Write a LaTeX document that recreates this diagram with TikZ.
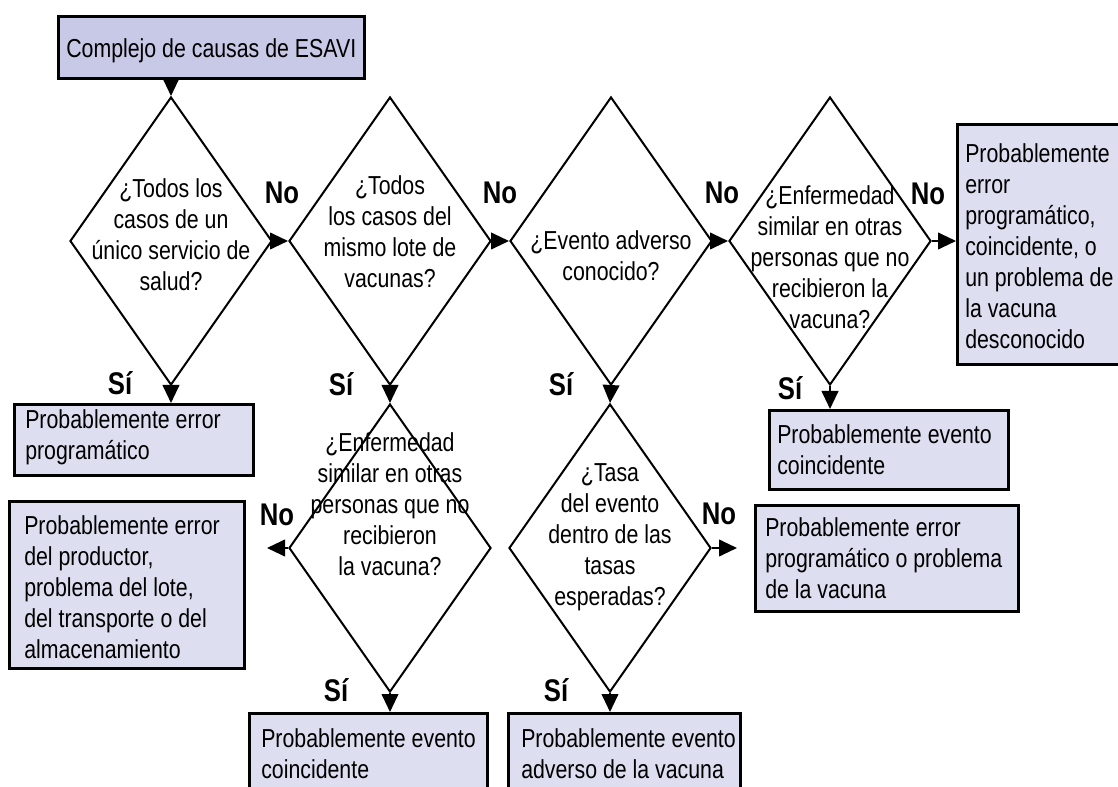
\documentclass[tikz,border=0pt]{standalone}
\usepackage{fontspec}
\setmainfont{Liberation Sans}[FakeStretch=0.82]
\usetikzlibrary{shapes.geometric,arrows.meta}
\definecolor{boxdark}{HTML}{C7C9E6}
\definecolor{boxlight}{HTML}{DDDFF0}
\newcommand{\txtfont}{\fontsize{19.5pt}{23.25pt}\selectfont}
\newcommand{\labfont}{\bfseries\fontsize{23.5pt}{24pt}\selectfont}
\tikzset{
  boxshape/.style={draw, line width=2pt, fill=boxlight, anchor=north west, inner sep=0pt},
  boxtext/.style={anchor=west, align=left, font=\txtfont, inner sep=0pt},
  dia/.style={draw, diamond, line width=1.5pt, minimum width=151.5pt,
    minimum height=216pt, inner sep=0pt},
  qtext/.style={align=center, font=\txtfont, inner sep=0pt},
  lab/.style={font=\labfont, inner sep=0pt},
  arr/.style={line width=1.5pt, -{Triangle[length=13.5pt,width=12.5pt]}}
}
\begin{document}
\begin{tikzpicture}[x=0.75pt,y=-0.75pt]
\path[use as bounding box] (0,0) rectangle (1118,787);
\clip (0,0) rectangle (1118,787);

% boxes
\node[boxshape, fill=boxdark, minimum width=229.5pt, minimum height=46.5pt] (top) at (57,15) {};
\node[boxtext] (topt) at ([shift={(9,3)}]top.west) {Complejo de causas de ESAVI};

\node[boxshape, minimum width=179.25pt, minimum height=53.25pt] (b1) at (13,403) {};
\node[boxtext] (b1t) at ([shift={(12,-3)}]b1.west) {Probablemente error\\programático};

\node[boxshape, minimum width=124.5pt, minimum height=180pt] (b2) at (956,123) {};
\node[boxtext] (b2t) at ([shift={(9,2)}]b2.west)
  {Probablemente\\error\\programático,\\coincidente, o\\un problema de\\la vacuna\\desconocido};

\node[boxshape, minimum width=179.25pt, minimum height=59.25pt] (b3) at (768,409) {};
\node[boxtext] (b3t) at ([shift={(9,0)}]b3.west) {Probablemente evento\\coincidente};

\node[boxshape, minimum width=176.25pt, minimum height=125.25pt] (b4) at (8,500) {};
\node[boxtext] (b4t) at ([shift={(16,2)}]b4.west)
  {Probablemente error\\del productor,\\problema del lote,\\del transporte o del\\almacenamiento};

\node[boxshape, minimum width=197.25pt, minimum height=79.5pt] (b5) at (754,504) {};
\node[boxtext] (b5t) at ([shift={(11,0)}]b5.west)
  {Probablemente error\\programático o problema\\de la vacuna};

\node[boxshape, minimum width=178.5pt, minimum height=60pt] (b6) at (248,712) {};
\node[boxtext] (b6t) at ([shift={(13,0)}]b6.west) {Probablemente evento\\coincidente};

\node[boxshape, minimum width=174pt, minimum height=60pt] (b7) at (507,712) {};
\node[boxtext] (b7t) at ([shift={(14,0)}]b7.west) {Probablemente evento\\adverso de la vacuna};

% diamonds
\node[dia] (d1) at (171,241) {};
\node[dia] (d2) at (390,241) {};
\node[dia] (d3) at (611,241) {};
\node[dia] (d4) at (830,241) {};
\node[dia] (d5) at (390,548) {};
\node[dia] (d6) at (610,548) {};

\node[qtext] (d1t) at (171,235) {¿Todos los\\casos de un\\único servicio de\\salud?};
\node[qtext] (d2t) at (390,232) {¿Todos\\los casos del\\mismo lote de\\vacunas?};
\node[qtext] (d3t) at (611,256) {¿Evento adverso\\conocido?};
\node[qtext] (d4t) at (830,257) {¿Enfermedad\\similar en otras\\personas que no\\recibieron la\\vacuna?};
\node[qtext] (d5t) at (390,504) {¿Enfermedad\\similar en otras\\personas que no\\recibieron\\la vacuna?};
\node[qtext] (d6t) at (610,537) {¿Tasa\\del evento\\dentro de las\\tasas\\esperadas?};

% free ends
\coordinate (e5) at (267,548);
\coordinate (e6) at (737,548);

% connectors
\draw[arr] (d1.north |- top.south) -- (d1.north);
\draw[arr] (d1.south) -- (d1.south |- b1.north);
\draw[arr] (d1.east) -- (d2.west);
\draw[arr] (d2.east) -- (d3.west);
\draw[arr] (d3.east) -- (d4.west);
\draw[arr] (d4.east) -- (d4.east -| b2.west);
\draw[arr] (d2.south) -- (d5.north);
\draw[arr] (d3.south) -- (d6.north);
\draw[arr] (d4.south) -- (d4.south |- b3.north);
\draw[arr] (d5.west) -- (e5);
\draw[arr] (d5.south) -- (d5.south |- b6.north);
\draw[arr] (d6.east) -- (e6);
\draw[arr] (d6.south) -- (d6.south |- b7.north);

% labels
\node[lab] (n1) at (282,193) {No};
\node[lab] (n2) at (500,193) {No};
\node[lab] (n3) at (722,193) {No};
\node[lab] (n4) at (928,194) {No};
\node[lab] (n5) at (277,515) {No};
\node[lab] (n6) at (719,514) {No};
\node[lab] (s1) at (120,383) {Sí};
\node[lab] (s2) at (341,384) {Sí};
\node[lab] (s3) at (561,384) {Sí};
\node[lab] (s4) at (790,388) {Sí};
\node[lab] (s5) at (336,690) {Sí};
\node[lab] (s6) at (556,690) {Sí};
\end{tikzpicture}
\end{document}
